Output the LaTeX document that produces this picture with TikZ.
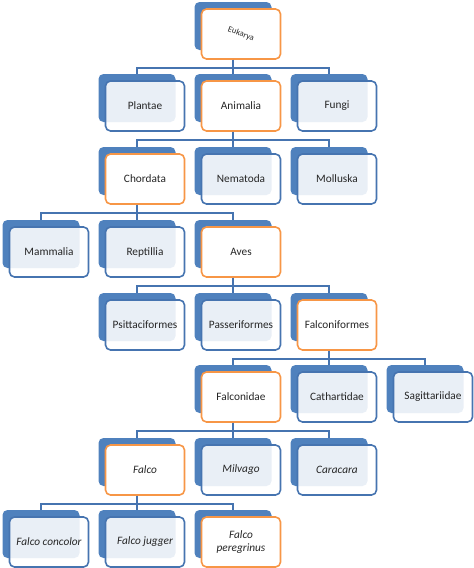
\documentclass[tikz,border=0pt]{standalone}
\usepackage{fontspec}
\setmainfont{Carlito}
\definecolor{boxblue}{HTML}{4F81BD}
\definecolor{linblue}{HTML}{4674B0}
\definecolor{hiorange}{HTML}{F79646}
\definecolor{txtgray}{HTML}{262626}
\tikzset{
  backbox/.style={draw=none, fill=boxblue, rounded corners=5pt, minimum width=77pt, minimum height=48pt, inner sep=0pt},
  frontbox/.style={draw=linblue, line width=1.6pt, fill=white, fill opacity=0.88, text opacity=1, draw opacity=1, rounded corners=5pt, minimum width=79pt, minimum height=50pt, inner sep=1pt, align=center, text=txtgray, font=\fontsize{11.3}{13}\selectfont},
  hibox/.style={frontbox, draw=hiorange, fill opacity=1},
  conn/.style={draw=linblue, line width=1.8pt},
}
\newcommand\taxon[5]{%
  \node[backbox] (b-#1) at (#2,#3+24) {};
  \node[#5] (f-#1) at (#2+8,#3+32) {#4};
}
\begin{document}
\begin{tikzpicture}[x=1pt,y=-1pt]
\useasboundingbox (0,0) rectangle (474,568);
% level 1
\taxon{euk}{233}{2}{\rotatebox{-20}{\fontsize{8.5}{9}\selectfont Eukarya}}{hibox}
% level 2
\taxon{plantae}{137}{74}{Plantae}{frontbox}
\taxon{animalia}{233}{74}{Animalia}{hibox}
\taxon{fungi}{329}{74}{Fungi}{frontbox}
% level 3
\taxon{chordata}{137}{147}{Chordata}{hibox}
\taxon{nematoda}{233}{147}{Nematoda}{frontbox}
\taxon{molluska}{329}{147}{Molluska}{frontbox}
% level 4
\taxon{mammalia}{41}{220}{Mammalia}{frontbox}
\taxon{reptillia}{137}{220}{Reptillia}{frontbox}
\taxon{aves}{233}{220}{Aves}{hibox}
% level 5
\taxon{psitt}{137}{293}{Psittaciformes}{frontbox}
\taxon{passer}{233}{293}{Passeriformes}{frontbox}
\taxon{falconif}{329}{293}{Falconiformes}{hibox}
% level 6
\taxon{falconidae}{233}{365}{Falconidae}{hibox}
\taxon{cathart}{329}{365}{Cathartidae}{frontbox}
\taxon{sagitt}{425}{365}{Sagittariidae}{frontbox}
% level 7
\taxon{falco}{137}{438}{\itshape Falco}{hibox}
\taxon{milvago}{233}{438}{\itshape Milvago}{frontbox}
\taxon{caracara}{329}{438}{\itshape Caracara}{frontbox}
% level 8
\taxon{concolor}{41}{510}{\itshape Falco concolor}{frontbox}
\taxon{jugger}{137}{510}{\itshape Falco jugger}{frontbox}
\taxon{peregrinus}{233}{510}{\itshape Falco\\\itshape peregrinus}{hibox}
% connectors
\foreach \p/\c in {euk/plantae, euk/animalia, euk/fungi,
  animalia/chordata, animalia/nematoda, animalia/molluska,
  chordata/mammalia, chordata/reptillia, chordata/aves,
  aves/psitt, aves/passer, aves/falconif,
  falconif/falconidae, falconif/cathart, falconif/sagitt,
  falconidae/falco, falconidae/milvago, falconidae/caracara,
  falco/concolor, falco/jugger, falco/peregrinus}
  \draw[conn] (b-\p |- f-\p.south) -- ++(0,8) -| (b-\c.north);
\end{tikzpicture}
\end{document}
